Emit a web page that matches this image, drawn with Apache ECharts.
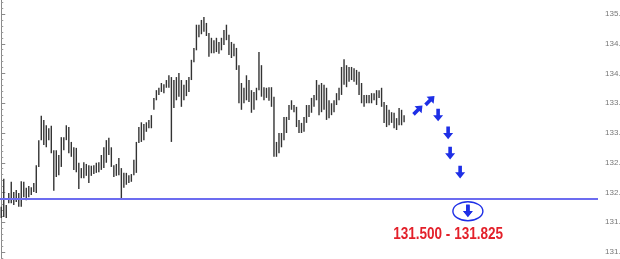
<!DOCTYPE html>
<html><head><meta charset="utf-8">
<script src="https://cdn.jsdelivr.net/npm/echarts@6/dist/echarts.min.js"></script>
<style>html,body{margin:0;padding:0;background:#fff}#c{width:620px;height:259px}</style>
</head><body><div id="c"></div>
<script>
// Bar highs and lows (price), one per trading bar, left to right
var highs = [131.76,132.23,131.79,131.99,132.18,132.01,132.04,131.99,132.19,132.18,
132.08,132.11,132.09,132.16,132.46,132.88,133.29,133.22,133.13,133.08,
133.12,132.71,132.71,132.63,132.93,132.93,133.13,133.10,132.85,132.76,
132.75,132.50,132.41,132.51,132.48,132.46,132.45,132.46,132.50,132.51,
132.63,132.76,132.88,132.92,132.76,132.46,132.48,132.58,132.41,132.33,
132.33,132.29,132.31,132.55,132.85,133.10,133.18,133.15,133.18,133.22,
133.30,133.59,133.72,133.76,133.84,133.82,133.89,133.97,133.94,133.89,
133.94,134.01,133.89,133.81,133.89,133.94,134.23,134.43,134.82,134.82,
134.90,134.95,134.85,134.68,134.60,134.56,134.60,134.53,134.60,134.73,
134.82,134.65,134.53,134.50,134.43,134.14,133.84,133.76,133.97,133.89,
133.72,133.69,133.76,134.36,134.14,133.77,133.76,133.77,133.77,133.61,
132.85,133.00,133.00,133.27,133.27,133.47,133.55,133.47,133.44,133.22,
133.17,133.27,133.47,133.47,133.59,133.64,133.89,133.81,133.84,133.81,
133.76,133.55,133.50,133.55,133.67,133.76,134.11,134.24,134.14,134.11,
134.11,134.09,134.06,134.03,133.84,133.64,133.64,133.64,133.67,133.67,
133.72,133.72,133.76,133.52,133.47,133.39,133.35,133.34,133.25,133.42,
133.39,133.30];
var lows = [131.57,131.59,131.57,131.82,131.82,131.79,131.84,131.76,131.76,131.92,
131.87,131.92,131.96,132.01,131.99,132.43,132.88,132.80,132.76,132.88,
132.66,132.03,132.26,132.29,132.43,132.71,132.88,132.66,132.60,132.38,
132.34,132.06,132.24,132.24,132.28,132.16,132.28,132.31,132.33,132.34,
132.38,132.41,132.50,132.63,132.43,132.26,132.28,132.29,131.89,132.08,
132.13,132.16,132.18,132.29,132.33,132.83,132.85,132.88,133.02,133.08,
133.08,133.39,133.55,133.64,133.69,133.67,133.76,133.76,132.85,133.42,
133.55,133.61,133.44,133.55,133.62,133.69,133.89,134.19,134.39,134.61,
134.66,134.70,134.63,134.28,134.34,134.34,134.36,134.33,134.39,134.48,
134.56,134.31,134.26,134.29,134.06,133.50,133.39,133.50,133.55,133.52,
133.34,133.39,133.55,133.72,133.61,133.55,133.59,133.54,133.44,132.60,
132.60,132.66,132.76,132.88,133.00,133.22,133.39,133.35,133.10,133.00,
133.00,133.02,133.17,133.27,133.34,133.44,133.55,133.30,133.35,133.39,
133.22,133.25,133.30,133.35,133.47,133.55,133.64,133.81,133.77,133.86,
133.89,133.86,133.81,133.64,133.50,133.44,133.50,133.50,133.50,133.55,
133.47,133.59,133.44,133.17,133.10,133.13,133.17,133.08,133.05,133.13,
133.13,133.18];
var totalSlots = 239;           // bar slots on the time axis, incl. empty future area
var supportLevel = 131.895;     // horizontal blue line
var yMin = 130.5, yMax = 135.5, yStep = 0.5;
// Forecast arrows: slot position, price, direction
var arrowSlot  = [166.6, 171.4, 174.6, 178.6, 179.4, 183.4, 186.5];
var arrowPrice = [133.39, 133.55, 133.30, 133.00, 132.66, 132.34, 131.69];
var arrowDir   = ['upright','upright','down','down','down','down','down'];
var targetText = '131.500 - 131.825';
var targetSlot = 178.6, targetPrice = 131.29;
var circleSlot = 186.5, circlePrice = 131.685;

var barData = highs.map(function(h,i){return [i,h,lows[i]];});
var arrowData = arrowSlot.map(function(s,i){return [s,arrowPrice[i],arrowDir[i]==='down'?0:1];});

var chart = echarts.init(document.getElementById('c'), null, {renderer:'canvas'});
var blue = '#1e2fe6';
chart.setOption({
  animation:false,
  grid:{left:0,right:22,top:-15.75,bottom:-22.75,containLabel:false,outerBoundsMode:'none'},
  xAxis:{type:'value',min:-0.5,max:totalSlots-0.5,show:false},
  yAxis:{type:'value',position:'right',min:yMin,max:yMax,interval:yStep,
    axisLine:{show:true,lineStyle:{color:'#8a8a8a',width:1}},
    axisTick:{show:true,length:4,lineStyle:{color:'#8a8a8a'}},
    minorTick:{show:true,splitNumber:5,length:2,lineStyle:{color:'#9a9a9a'}},
    splitLine:{show:false},
    axisLabel:{margin:7,fontSize:8,color:'#777',fontFamily:'Liberation Sans, Arial',
      hideOverlap:false,showMinLabel:true,showMaxLabel:true,overflow:'none',
      formatter:function(v){return v.toFixed(1);}}
  },
  series:[
    {type:'custom',data:barData,clip:false,
      renderItem:function(params,api){
        var t=api.coord([api.value(0),api.value(1)]);
        var b=api.coord([api.value(0),api.value(2)]);
        return {type:'line',shape:{x1:t[0],y1:t[1],x2:b[0],y2:b[1]},
          style:{stroke:'#333',lineWidth:1.4}};
      },
      markLine:{silent:true,symbol:'none',label:{show:false},
        lineStyle:{color:'#6c6cf0',width:2,type:'solid'},
        data:[{yAxis:supportLevel}]}
    },
    {type:'custom',data:arrowData,clip:false,
      renderItem:function(params,api){
        var p=api.coord([api.value(0),api.value(1)]);
        return {type:'path',x:p[0],y:p[1],rotation:api.value(2)?Math.PI*0.75:0,
          shape:{pathData:'M-1.8,-6.5 L1.8,-6.5 L1.8,0 L5,0 L0,6.2 L-5,0 L-1.8,0 Z'},
          style:{fill:blue}};
      }
    },
    {type:'custom',data:[[circleSlot,circlePrice]],clip:false,
      renderItem:function(params,api){
        var p=api.coord([api.value(0),api.value(1)]);
        return {type:'group',children:[
          {type:'ellipse',shape:{cx:p[0],cy:p[1],rx:15,ry:9.5},style:{fill:'none',stroke:blue,lineWidth:1.4}},
          {type:'path',x:p[0],y:p[1],shape:{pathData:'M-1.7,-6 L1.7,-6 L1.7,0 L4.6,0 L0,5.6 L-4.6,0 L-1.7,0 Z'},style:{fill:blue}}
        ]};
      }
    },
    {type:'custom',data:[[targetSlot,targetPrice]],clip:false,
      renderItem:function(params,api){
        var p=api.coord([api.value(0),api.value(1)]);
        return {type:'text',x:p[0],y:p[1],scaleX:0.845,
          style:{text:targetText,fill:'#e3202a',font:'bold 16px "Liberation Sans", Arial',
            align:'center',verticalAlign:'middle'}};
      }
    }
  ]
});
</script></body></html>
